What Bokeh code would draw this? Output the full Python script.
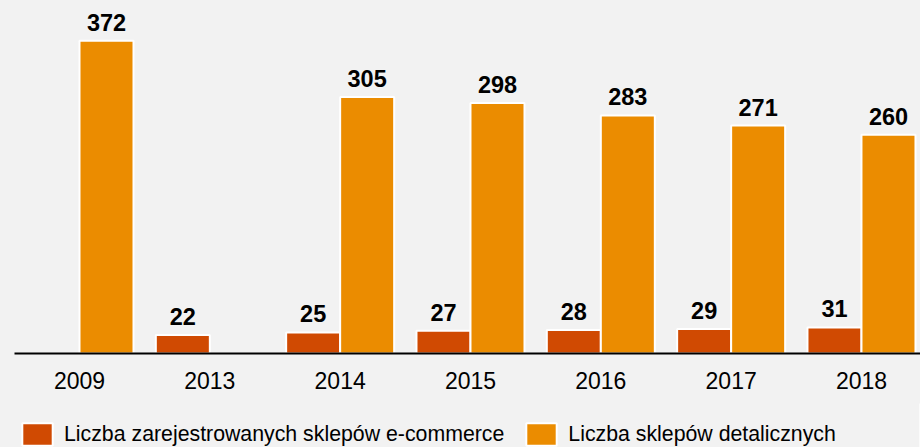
import numpy as np
from bokeh.plotting import figure
from bokeh.layouts import column
from bokeh.models import (ColumnDataSource, Range1d, FixedTicker, Legend, LegendItem,
                          LabelSet, GlobalInlineStyleSheet)
from bokeh.core.properties import value
from bokeh.embed import file_html
from bokeh.resources import INLINE

# ---- data ----
years = ["2009", "2013", "2014", "2015", "2016", "2017", "2018"]
ecommerce = [None, 22, 25, 27, 28, 29, 31]
retail = [372, None, 305, 298, 283, 271, 260]
series_names = ["Liczba zarejestrowanych sklepów e-commerce", "Liczba sklepów detalicznych"]
colors = ["#d04a02", "#eb8c00"]

FONT = "Liberation Sans"
BG = "#f2f2f2"
px_per_cat = 130.33
offset = 27 / px_per_cat
bar_w = 54 / px_per_cat

W = 920
H_MAIN, H_LEG = 403, 44
FRAME_H = 353
x0 = -65 / px_per_cat
p = figure(width=W, height=H_MAIN, output_backend="svg", toolbar_location=None,
           x_range=Range1d(x0, x0 + (W - 14) / px_per_cat),
           y_range=Range1d(0, FRAME_H / 0.841),
           min_border_left=14, min_border_right=0, min_border_top=0,
           min_border_bottom=H_MAIN - FRAME_H)
p.background_fill_color = BG
p.border_fill_color = BG
p.outline_line_color = None
p.grid.visible = False
p.yaxis.visible = False

idx = np.arange(len(years))

def build(vals, shift):
    xs = [i + shift for i, v in zip(idx, vals) if v is not None]
    ys = [v for v in vals if v is not None]
    return ColumnDataSource(dict(x=xs, top=ys, label=[str(v) for v in ys]))

src_e = build(ecommerce, -offset)
src_r = build(retail, offset)

p.vbar(x="x", top="top", bottom=0, width=bar_w, source=src_e,
       fill_color=colors[0], line_color="white", line_width=2)
p.vbar(x="x", top="top", bottom=0, width=bar_w, source=src_r,
       fill_color=colors[1], line_color="white", line_width=2)

for src in (src_e, src_r):
    p.add_layout(LabelSet(x="x", y="top", text="label", source=src,
                          text_align="center", text_baseline="alphabetic",
                          y_offset=10, text_font=value(FONT), text_font_size="23.5px",
                          text_font_style="bold", text_color="black"))

ax = p.xaxis[0]
ax.ticker = FixedTicker(ticks=list(idx))
ax.major_label_overrides = {int(i): y for i, y in zip(idx, years)}
ax.major_tick_line_color = None
ax.minor_tick_line_color = None
ax.major_tick_out = 0
ax.major_tick_in = 0
ax.axis_line_color = "black"
ax.axis_line_width = 2
ax.major_label_text_font = FONT
ax.major_label_text_font_size = "23px"
ax.major_label_text_color = "black"
ax.major_label_standoff = 18

# ---- legend strip ----
p2 = figure(width=W, height=H_LEG, output_backend="svg", toolbar_location=None,
            x_range=Range1d(0, 1), y_range=Range1d(0, 1),
            min_border_left=0, min_border_right=0, min_border_top=0, min_border_bottom=0)
p2.background_fill_color = BG
p2.border_fill_color = BG
p2.outline_line_color = None
p2.grid.visible = False
p2.axis.visible = False
# legend proxies (placed outside the visible range)
l_e = p2.vbar(x=[5], top=[1], width=0.1, fill_color=colors[0], line_color="white", line_width=2)
l_r = p2.vbar(x=[5], top=[1], width=0.1, fill_color=colors[1], line_color="white", line_width=2)

legend = Legend(items=[LegendItem(label=series_names[0], renderers=[l_e]),
                       LegendItem(label=series_names[1], renderers=[l_r])],
                orientation="horizontal", location=(4, -1),
                glyph_width=38, glyph_height=28, label_standoff=8, spacing=18,
                padding=0, margin=0, border_line_color=None,
                background_fill_alpha=0,
                label_text_font=FONT, label_text_font_size="21.3px",
                label_text_color="black")
p2.add_layout(legend, "center")

layout = column(p, p2, spacing=0)
layout.stylesheets = [GlobalInlineStyleSheet(css="html, body { background: #f2f2f2; }")]
open("out.html", "w").write(file_html(layout, INLINE))
